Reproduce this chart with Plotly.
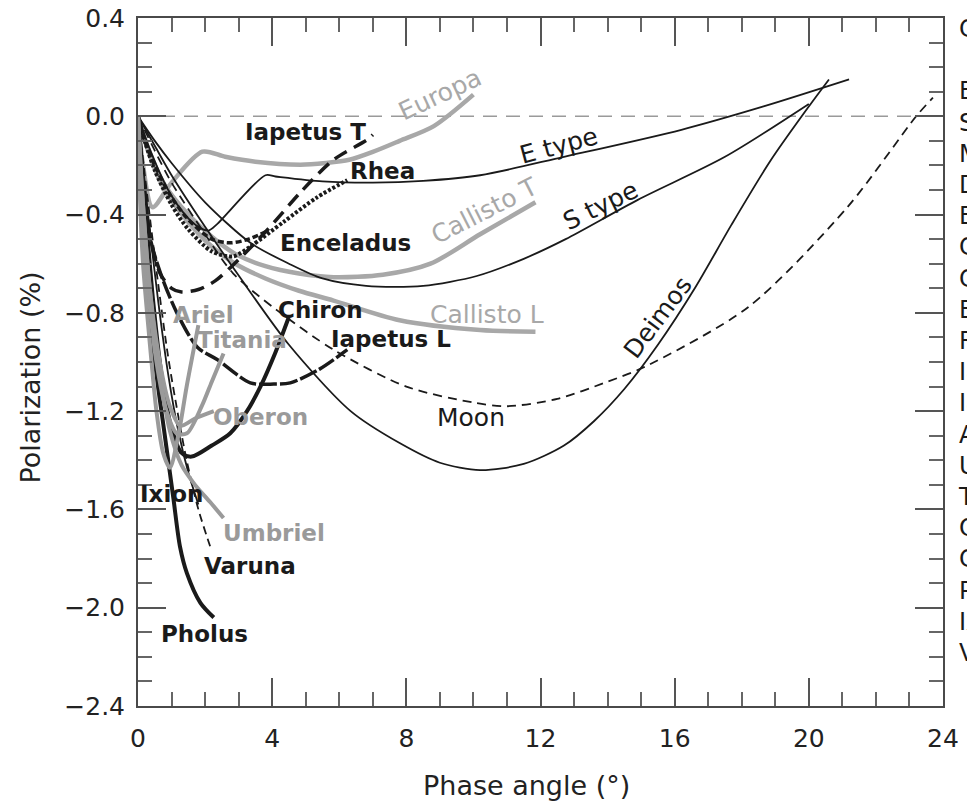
import plotly.graph_objects as go

# ---------------- data ----------------
# thin black reference curves
etype_x = [0, 0.4, 0.9, 1.4, 1.8, 2.1, 2.35, 3.8, 4.1, 5.5, 7.0, 8.5, 10.2, 12.7, 16.2, 18.65, 21.2]
etype_y = [0, -0.15, -0.3, -0.4, -0.45, -0.465, -0.44, -0.24, -0.245, -0.265, -0.27, -0.263, -0.24, -0.165, -0.055, 0.04, 0.15]

stype_x = [0, 0.5, 1.0, 2.0, 3.35, 4.5, 5.5, 6.8, 8.5, 10.1, 11.5, 12.75, 14.9, 17.5, 20.0]
stype_y = [0, -0.1, -0.19, -0.35, -0.515, -0.6, -0.66, -0.69, -0.69, -0.65, -0.58, -0.5, -0.34, -0.165, 0.05]

moon_x = [0, 0.5, 1.0, 2.0, 2.84, 4.15, 5.83, 8.0, 10.0, 11.0, 12.5, 14.0, 15.1, 18.2, 21.15, 23.2, 23.7]
moon_y = [0, -0.14, -0.27, -0.48, -0.64, -0.79, -0.95, -1.1, -1.165, -1.18, -1.15, -1.08, -1.02, -0.776, -0.37, 0.0, 0.076]

deimos_x = [0, 0.5, 1.0, 2.0, 2.96, 4.5, 6.34, 7.8, 9.0, 10.2, 11.5, 12.7, 13.6, 14.5, 15.5, 16.6, 17.7, 18.86, 20.0, 20.6]
deimos_y = [0, -0.12, -0.24, -0.45, -0.64, -0.93, -1.2, -1.33, -1.41, -1.44, -1.415, -1.34, -1.24, -1.11, -0.93, -0.7, -0.44, -0.18, 0.04, 0.15]

# grey curves (Galilean satellites)
europa_x = [0, 0.15, 0.43, 1.0, 1.92, 2.6, 3.5, 4.84, 5.6, 6.3, 7.0, 7.8, 8.82, 10.0]
europa_y = [0, -0.2, -0.37, -0.27, -0.144, -0.165, -0.185, -0.197, -0.19, -0.177, -0.145, -0.1, -0.04, 0.088]

callistoT_x = [0, 0.3, 0.8, 1.5, 2.2, 2.9, 3.8, 4.8, 5.83, 7.3, 8.72, 10.2, 11.85]
callistoT_y = [0, -0.13, -0.28, -0.4, -0.49, -0.56, -0.61, -0.64, -0.655, -0.645, -0.6, -0.48, -0.35]

callistoL_x = [0, 0.3, 0.8, 1.5, 2.2, 2.9, 3.8, 4.8, 5.83, 7.8, 10.2, 11.85]
callistoL_y = [0, -0.14, -0.3, -0.43, -0.53, -0.6, -0.66, -0.71, -0.75, -0.83, -0.87, -0.877]

# Saturnian satellites
enceladus_x = [0, 0.2, 0.5, 1.0, 1.5, 2.2, 2.76, 3.3, 3.8]
enceladus_y = [0, -0.1, -0.2, -0.33, -0.42, -0.5, -0.515, -0.5, -0.47]

rhea_x = [0, 0.2, 0.5, 1.0, 1.5, 2.2, 2.84, 3.35, 4.34, 5.34, 6.24]
rhea_y = [0, -0.1, -0.22, -0.36, -0.46, -0.55, -0.57, -0.53, -0.43, -0.33, -0.26]

iapetusT_x = [0, 0.1, 0.3, 0.66, 1.0, 1.3, 1.8, 2.3, 2.8, 3.86, 4.84, 5.83, 6.84, 7.0]
iapetusT_y = [0, -0.2, -0.45, -0.64, -0.7, -0.715, -0.705, -0.67, -0.61, -0.462, -0.31, -0.177, -0.095, -0.075]

iapetusL_x = [0, 0.15, 0.37, 0.7, 1.16, 1.77, 2.36, 3.35, 4.05, 4.54, 5.4, 6.24]
iapetusL_y = [0, -0.25, -0.5, -0.65, -0.8, -0.94, -0.99, -1.085, -1.09, -1.085, -1.03, -0.95]

# Uranian satellites
ariel_x = [0, 0.05, 0.15, 0.37, 0.55, 0.75, 0.95, 1.2, 1.45, 1.8]
ariel_y = [0, -0.3, -0.6, -0.95, -1.2, -1.37, -1.43, -1.3, -1.1, -0.85]

umbriel_x = [0, 0.12, 0.35, 0.65, 0.95, 1.3, 1.7, 2.15, 2.55]
umbriel_y = [0, -0.3, -0.7, -1.05, -1.28, -1.42, -1.5, -1.57, -1.635]

titania_x = [0, 0.1, 0.3, 0.55, 0.85, 1.15, 1.46, 1.9, 2.2, 2.55]
titania_y = [0, -0.3, -0.7, -1.0, -1.2, -1.29, -1.29, -1.18, -1.08, -0.965]

oberon_x = [0, 0.12, 0.35, 0.65, 0.95, 1.26, 1.7, 2.26]
oberon_y = [0, -0.3, -0.7, -1.0, -1.18, -1.26, -1.23, -1.2]

# Centaurs and TNOs
chiron_x = [0, 0.2, 0.45, 0.7, 1.0, 1.3, 1.6, 2.2, 2.75, 3.25, 3.65, 4.1, 4.49]
chiron_y = [0, -0.35, -0.75, -1.05, -1.27, -1.37, -1.385, -1.34, -1.29, -1.2, -1.1, -0.96, -0.82]

pholus_x = [0, 0.1, 0.3, 0.55, 0.75, 0.95, 1.06, 1.25, 1.46, 1.86, 2.26]
pholus_y = [0, -0.3, -0.7, -1.05, -1.25, -1.45, -1.56, -1.75, -1.86, -1.98, -2.04]

ixion_x = [0, 0.3, 0.6, 0.9, 1.2, 1.5, 1.8]
ixion_y = [0, -0.4, -0.75, -1.05, -1.28, -1.45, -1.58]

varuna_x = [0, 0.3, 0.6, 0.9, 1.2, 1.45, 1.8, 2.15]
varuna_y = [0, -0.35, -0.68, -0.98, -1.22, -1.4, -1.6, -1.75]

# axis ticks
x_tick_vals = [0, 4, 8, 12, 16, 20, 24]
x_tick_text = ["0", "4", "8", "12", "16", "20", "24"]
y_tick_vals = [0.4, 0.0, -0.4, -0.8, -1.2, -1.6, -2.0, -2.4]
y_tick_text = ["0.4", "0.0", "\u22120.4", "\u22120.8", "\u22121.2", "\u22121.6", "\u22122.0", "\u22122.4"]

# axis titles
x_title = "Phase angle (°)"
y_title = "Polarization (%)"

# names of the curves (legend column at the right edge)
legend_title = "Curves"
curve_names = ["E type", "S type", "Moon", "Deimos", "Europa", "Callisto T", "Callisto L",
               "Enceladus", "Rhea", "Iapetus T", "Iapetus L", "Ariel", "Umbriel", "Titania",
               "Oberon", "Chiron", "Pholus", "Ixion", "Varuna"]

# ---------------- styles ----------------
FONT = "DejaVu Sans"
BLACK = "#1a1a1a"
GREY_L = "#a8a8a8"
GREY_M = "#9a9a9a"
NBSP = "\u00a0"

curves = [
    # (name, x, y, color, width, dash)
    ("Europa", europa_x, europa_y, GREY_L, 4.5, "solid"),
    ("Callisto T", callistoT_x, callistoT_y, GREY_L, 4.5, "solid"),
    ("Callisto L", callistoL_x, callistoL_y, GREY_L, 4.5, "solid"),
    ("E type", etype_x, etype_y, BLACK, 1.8, "solid"),
    ("S type", stype_x, stype_y, BLACK, 1.8, "solid"),
    ("Moon", moon_x, moon_y, BLACK, 1.8, "9px,6px"),
    ("Deimos", deimos_x, deimos_y, BLACK, 1.8, "solid"),
    ("Ixion", ixion_x, ixion_y, BLACK, 1.8, "solid"),
    ("Varuna", varuna_x, varuna_y, BLACK, 1.8, "8px,5px"),
    ("Enceladus", enceladus_x, enceladus_y, BLACK, 3.5, "6px,3px"),
    ("Rhea", rhea_x, rhea_y, BLACK, 4, "3px,2px"),
    ("Iapetus T", iapetusT_x, iapetusT_y, BLACK, 3.5, "14px,8px"),
    ("Iapetus L", iapetusL_x, iapetusL_y, BLACK, 3.5, "18px,3px"),
    ("Chiron", chiron_x, chiron_y, BLACK, 4, "solid"),
    ("Pholus", pholus_x, pholus_y, BLACK, 4, "solid"),
    ("Ariel", ariel_x, ariel_y, GREY_M, 4, "solid"),
    ("Umbriel", umbriel_x, umbriel_y, GREY_M, 4, "solid"),
    ("Titania", titania_x, titania_y, GREY_M, 4, "solid"),
    ("Oberon", oberon_x, oberon_y, GREY_M, 4, "solid"),
]

fig = go.Figure()
for name, xs, ys, col, w, dash in curves:
    fig.add_trace(go.Scatter(
        x=xs, y=ys, mode="lines", name=name, showlegend=False,
        line=dict(color=col, width=w, dash=dash, shape="spline", smoothing=0.8),
        hoverinfo="name",
    ))

# zero reference line
fig.add_shape(type="line", xref="x", yref="y", x0=0, x1=24, y0=0, y1=0,
              line=dict(color="#9a9a9a", width=1.5, dash="14px,9px"), layer="below")

# in-plot labels: (text, x, y, angle, kind)
labels = [
    ("Europa", 9.0, 0.09, -25, "grey"),
    ("Iapetus T", 5.0, -0.065, 0, "bold"),
    ("Rhea", 7.3, -0.222, 0, "bold"),
    ("E type", 12.55, -0.12, -15, "plain"),
    ("Callisto T", 10.35, -0.385, -27, "grey"),
    ("S type", 13.8, -0.365, -26, "plain"),
    ("Enceladus", 6.18, -0.515, 0, "bold"),
    ("Chiron", 5.44, -0.787, 0, "bold"),
    ("Callisto L", 10.4, -0.805, 0, "grey"),
    ("Iapetus L", 7.55, -0.907, 0, "bold"),
    ("Deimos", 15.5, -0.82, -53, "plain"),
    ("Ariel", 1.95, -0.808, 0, "greybold"),
    ("Titania", 3.1, -0.91, 0, "greybold"),
    ("Oberon", 3.65, -1.223, 0, "greybold"),
    ("Moon", 9.94, -1.227, 0, "plain"),
    ("Ixion", 0.99, -1.537, 0, "bold"),
    ("Umbriel", 4.04, -1.696, 0, "greybold"),
    ("Varuna", 3.35, -1.83, 0, "bold"),
    ("Pholus", 1.97, -2.107, 0, "bold"),
]
styles = {
    "bold": dict(family=FONT, size=23, color=BLACK, weight="bold"),
    "greybold": dict(family=FONT, size=23, color=GREY_M, weight="bold"),
    "plain": dict(family=FONT, size=25, color=BLACK),
    "grey": dict(family=FONT, size=25, color=GREY_L),
}
for text, lx, ly, ang, kind in labels:
    fig.add_annotation(x=lx, y=ly, xref="x", yref="y", text=text, showarrow=False,
                       textangle=ang, font=styles[kind], xanchor="center", yanchor="middle")

# axis titles (placed where the reference has them, slightly off-centre)
title_font = dict(family=FONT, size=27, color="#222222")
fig.add_annotation(x=0.482, y=-0.115, xref="paper", yref="paper", text=x_title,
                   showarrow=False, xanchor="center", yanchor="middle", font=title_font)
fig.add_annotation(x=-0.134, y=0.4775, xref="paper", yref="paper", text=y_title,
                   showarrow=False, textangle=-90, xanchor="center", yanchor="middle",
                   font=title_font)

# legend column at right edge (runs past the window edge, as in the reference)
legend_text = "<br>".join([legend_title, NBSP] + curve_names)
fig.add_annotation(x=1.0165, y=1.0075, xref="paper", yref="paper", text=legend_text,
                   showarrow=False, xanchor="left", yanchor="top", align="left",
                   font=dict(family=FONT, size=24, color=BLACK))

axis_common = dict(
    showline=True, linecolor="#4a4a4a", linewidth=2, mirror="allticks",
    ticks="inside", ticklen=28, tickwidth=2, tickcolor="#555555",
    showgrid=False, zeroline=False, automargin=False,
    ticklabeloverflow="allow",
    tickfont=dict(family=FONT, size=25, color="#222222"),
)

fig.update_layout(
    width=967, height=811,
    margin=dict(l=138, r=24, t=18, b=105, autoexpand=False),
    paper_bgcolor="white", plot_bgcolor="white",
    showlegend=False,
    xaxis=dict(range=[0, 24], tickmode="array", tickvals=x_tick_vals, ticktext=x_tick_text,
               minor=dict(ticks="inside", ticklen=14, tickwidth=2, tickcolor="#666666",
                          tick0=0, dtick=1),
               ticklabelstandoff=9,
               **axis_common),
    yaxis=dict(range=[-2.4, 0.4], tickmode="array", tickvals=y_tick_vals, ticktext=y_tick_text,
               minor=dict(ticks="inside", ticklen=14, tickwidth=2, tickcolor="#666666",
                          tick0=0, dtick=0.1),
               ticklabelstandoff=6,
               **axis_common),
)

# page without the default body margin and without scrollbars, so the figure fills
# the 967x811 window exactly like the reference picture
page_css = ("document.body.style.margin='0';"
            "document.documentElement.style.overflow='hidden';"
            "document.body.style.overflow='hidden';")
fig.write_html("out.html", post_script=page_css, config={"displayModeBar": False})
